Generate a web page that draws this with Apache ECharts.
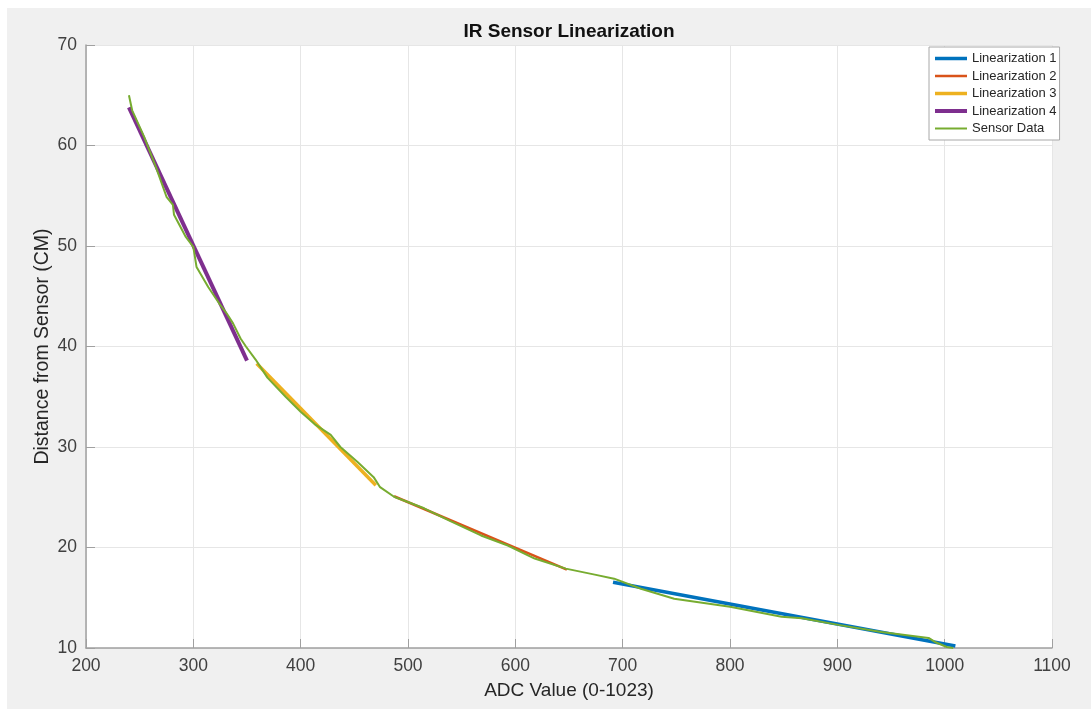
<!DOCTYPE html>
<html>
<head>
<meta charset="utf-8">
<title>IR Sensor Linearization</title>
<script src="https://cdn.jsdelivr.net/npm/echarts@6/dist/echarts.min.js"></script>
<style>
  html, body { margin: 0; padding: 0; background: #fff; }
  #chart { position: absolute; left: 7px; top: 8px; width: 1084px; height: 701px; }
</style>
</head>
<body>
<div id="chart"></div>
<script>
// sensor readings (ADC value vs distance in cm)
const sensorAdc = [240, 243, 254, 265, 275, 281, 282, 293, 300, 303, 314, 324, 331, 337, 344, 349, 358, 369,
  386, 400, 414, 428, 437, 453, 468, 474, 487, 515, 540, 568, 593, 618, 647, 674, 692, 717, 748, 800,
  848, 867, 901, 941, 985, 991, 1002, 1008];
const sensorDist = [65.0, 63.5, 60.9, 57.9, 54.9, 54.1, 53.1, 50.9, 49.9, 47.9, 45.9, 44.3, 43.3, 42.3, 40.8, 40.0, 38.7, 36.9,
  35.0, 33.5, 32.2, 31.2, 30.0, 28.5, 27.0, 26.0, 25.05, 23.9, 22.6, 21.2, 20.2, 18.9, 17.9, 17.3, 16.9, 15.9, 14.9, 14.1,
  13.1, 12.95, 12.3, 11.6, 11.0, 10.6, 10.1, 10.0];

// linear fits, end points
const lin1Adc = [691, 1010];
const lin1Dist = [16.55, 10.2];
const lin2Adc = [487, 648];
const lin2Dist = [25.1, 17.8];
const lin3Adc = [359, 470];
const lin3Dist = [38.3, 26.2];
const lin4Adc = [240, 350];
const lin4Dist = [63.8, 38.6];

const xTicks = [200, 300, 400, 500, 600, 700, 800, 900, 1000, 1100];
const yTicks = [10, 20, 30, 40, 50, 60, 70];

const FONT = '"Liberation Sans", Arial, Helvetica, sans-serif';

function pairs (xs, ys) {
  return xs.map((x, i) => [x, ys[i]]);
}

function lineSeries (name, xs, ys, color, width) {
  return {
    name: name,
    type: 'line',
    data: pairs(xs, ys),
    showSymbol: false,
    symbol: 'none',
    animation: false,
    lineStyle: { color: color, width: width },
    itemStyle: { color: color }
  };
}

const chart = echarts.init(document.getElementById('chart'));

const option = {
  backgroundColor: '#f0f0f0',
  animation: false,
  textStyle: { fontFamily: FONT },
  graphic: [
    {
      type: 'text',
      x: 562,
      y: 24,
      style: {
        text: 'IR Sensor Linearization',
        fill: '#111',
        font: 'bold 19px ' + FONT,
        align: 'center',
        verticalAlign: 'middle'
      }
    }
  ],
  legend: {
    orient: 'vertical',
    left: 922,
    top: 39,
    padding: [5, 3, 5, 4],
    itemWidth: 32,
    itemHeight: 13,
    itemGap: 4.5,
    backgroundColor: '#fff',
    borderColor: '#a8a8a8',
    borderWidth: 1,
    borderRadius: 0,
    lineStyle: { width: 'inherit' },
    itemStyle: { color: 'transparent', borderWidth: 0, opacity: 0 },
    textStyle: { fontSize: 13, color: '#262626', fontFamily: FONT },
    data: ['Linearization 1', 'Linearization 2', 'Linearization 3', 'Linearization 4', 'Sensor Data']
  },
  grid: {
    left: 79,
    top: 37,
    width: 966,
    height: 603,
    show: true,
    backgroundColor: '#fff',
    borderWidth: 0
  },
  xAxis: {
    type: 'value',
    min: xTicks[0],
    max: xTicks[xTicks.length - 1],
    interval: 100,
    name: 'ADC Value (0-1023)',
    nameLocation: 'middle',
    nameGap: 33,
    nameMoveOverlap: false,
    nameTextStyle: { fontSize: 19, color: '#262626', fontFamily: FONT },
    axisLine: { show: true, lineStyle: { color: '#a0a0a0', width: 1.5 } },
    axisTick: { show: true, inside: true, length: 9, lineStyle: { color: '#a0a0a0' } },
    axisLabel: { fontSize: 17.5, color: '#404040', margin: 9, fontFamily: FONT, formatter: (v) => String(v) },
    splitLine: { show: true, lineStyle: { color: '#e6e6e6', width: 1 } }
  },
  yAxis: {
    type: 'value',
    min: yTicks[0],
    max: yTicks[yTicks.length - 1],
    interval: 10,
    name: 'Distance from Sensor (CM)',
    nameLocation: 'middle',
    nameGap: 33,
    nameMoveOverlap: false,
    nameTextStyle: { fontSize: 19.5, color: '#262626', fontFamily: FONT },
    axisLine: { show: true, lineStyle: { color: '#a0a0a0', width: 1.5 } },
    axisTick: { show: true, inside: true, length: 9, lineStyle: { color: '#a0a0a0' } },
    axisLabel: { fontSize: 17.5, color: '#404040', margin: 9, fontFamily: FONT, formatter: (v) => String(v) },
    splitLine: { show: true, lineStyle: { color: '#e6e6e6', width: 1 } }
  },
  series: [
    lineSeries('Linearization 1', lin1Adc, lin1Dist, '#0072BD', 3.5),
    lineSeries('Linearization 2', lin2Adc, lin2Dist, '#D95319', 2.5),
    lineSeries('Linearization 3', lin3Adc, lin3Dist, '#EDB120', 3.5),
    lineSeries('Linearization 4', lin4Adc, lin4Dist, '#7E2F8E', 4),
    lineSeries('Sensor Data', sensorAdc, sensorDist, '#77AC30', 2)
  ]
};

chart.setOption(option);
</script>
</body>
</html>
